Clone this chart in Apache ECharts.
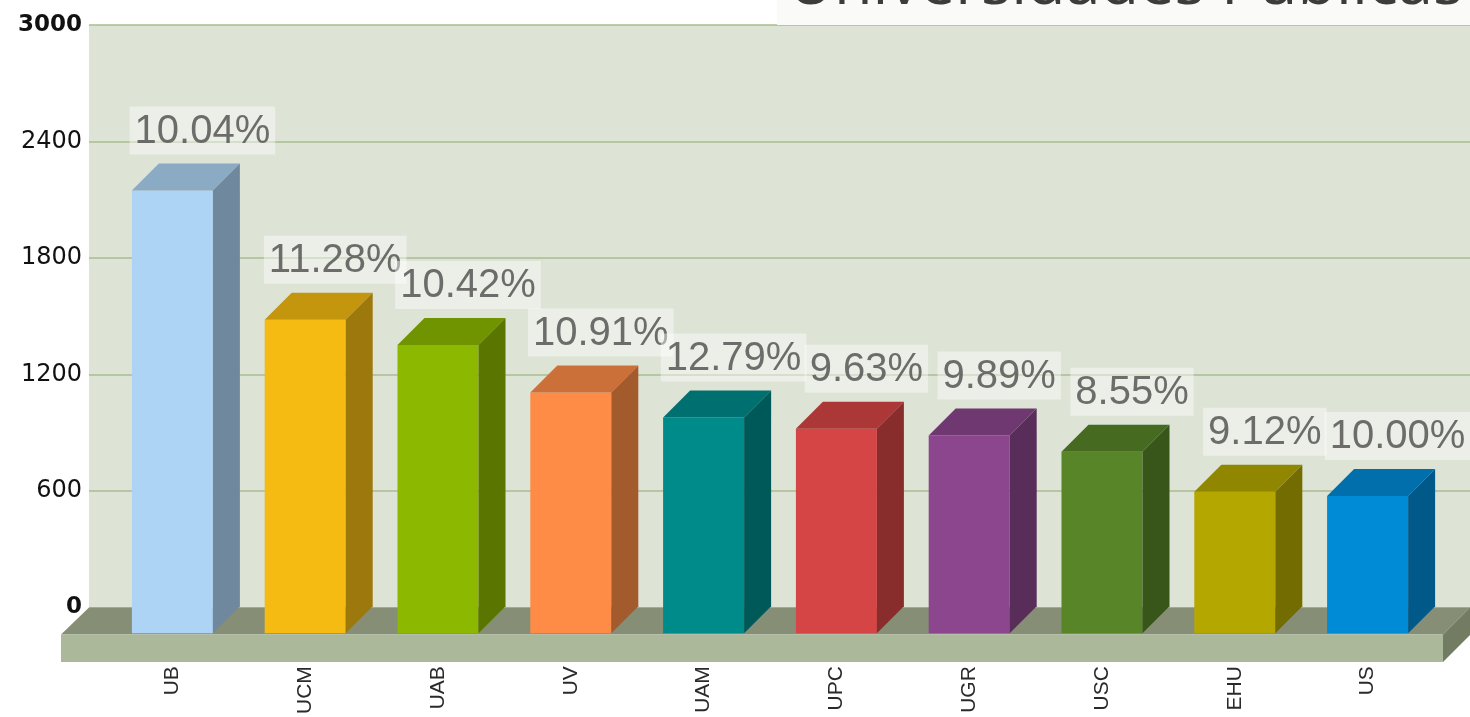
<!DOCTYPE html>
<html>
<head>
<meta charset="utf-8">
<script src="https://cdn.jsdelivr.net/npm/echarts@6/dist/echarts.min.js"></script>
<style>
  html, body { margin: 0; padding: 0; background: #ffffff; }
  #chart { width: 1470px; height: 717px; }
</style>
</head>
<body>
<div id="chart"></div>
<script>
// ---- data ----
const categories = ['UB', 'UCM', 'UAB', 'UV', 'UAM', 'UPC', 'UGR', 'USC', 'EHU', 'US'];
const values = [2285, 1618, 1488, 1242, 1113, 1055, 1020, 936, 730, 708];
const percentLabels = ['10.04%', '11.28%', '10.42%', '10.91%', '12.79%', '9.63%', '9.89%', '8.55%', '9.12%', '10.00%'];
const yMin = 0, yMax = 3000, yStep = 600;
const titleText = 'Universidades Públicas';

// ---- style ----
const palette = ['#aed4f5', '#f5bb12', '#8cb800', '#fe8c46', '#008b8b', '#d64545', '#8b468d', '#588528', '#b4a800', '#008bd6'];
const DEPTH = 27;
const GRID_LEFT = 89, GRID_TOP = 25, GRID_H = 582.5, CHART_W = 1470;

function shade(hex, f) {
  const n = parseInt(hex.slice(1), 16);
  const r = Math.round(((n >> 16) & 255) * f), g = Math.round(((n >> 8) & 255) * f), b = Math.round((n & 255) * f);
  return 'rgb(' + r + ',' + g + ',' + b + ')';
}

const chart = echarts.init(document.getElementById('chart'));

const backBottom = GRID_TOP + GRID_H;
const floorFrontY = backBottom + DEPTH;
const floorThick = 27.5;

const option = {
  animation: false,
  title: {
    text: titleText,
    right: 0,
    top: -45,
    padding: [0, 7, 7, 11],
    backgroundColor: '#fafaf8',
    textStyle: { fontFamily: 'Open Sans', fontSize: 63, fontWeight: 'normal', color: '#3c3c3c' }
  },
  grid: [
    { left: GRID_LEFT, right: 0, top: GRID_TOP, height: GRID_H, show: true, backgroundColor: '#dde3d5', borderWidth: 0 },
    { left: 106, width: 1328, top: GRID_TOP + DEPTH, height: GRID_H }
  ],
  xAxis: [
    { gridIndex: 0, type: 'category', data: categories, show: false },
    {
      gridIndex: 1, type: 'category', data: categories,
      axisLine: { show: false }, axisTick: { show: false },
      axisLabel: { rotate: 90, margin: 33, fontSize: 21, fontFamily: 'Liberation Sans', color: '#2a2a2a', interval: 0 }
    }
  ],
  yAxis: [
    {
      gridIndex: 0, type: 'value', min: yMin, max: yMax, interval: yStep,
      axisLine: { show: false }, axisTick: { show: false },
      splitLine: { lineStyle: { color: '#a9bc90', width: 1.5 } },
      axisLabel: {
        margin: 7,
        formatter: function (v) { return (v === yMin || v === yMax) ? '{b|' + v + '}' : '{n|' + v + '}'; },
        rich: {
          b: { fontFamily: 'DejaVu Sans', fontSize: 23, fontWeight: 'bold', color: '#111111' },
          n: { fontFamily: 'DejaVu Sans', fontSize: 24, fontWeight: 'normal', color: '#111111' }
        }
      }
    },
    { gridIndex: 1, type: 'value', min: yMin, max: yMax, interval: yStep, show: false, splitLine: { show: false } }
  ],
  graphic: [
    { type: 'polygon', z: 1, shape: { points: [[GRID_LEFT, backBottom], [CHART_W, backBottom], [CHART_W - DEPTH, floorFrontY], [GRID_LEFT - DEPTH - 1, floorFrontY]] }, style: { fill: '#868f76' } },
    { type: 'rect', z: 1, shape: { x: GRID_LEFT - DEPTH - 1, y: floorFrontY, width: CHART_W - GRID_LEFT + 1, height: floorThick }, style: { fill: '#abb89a' } },
    { type: 'polygon', z: 1, shape: { points: [[CHART_W - DEPTH, floorFrontY], [CHART_W, backBottom], [CHART_W, backBottom + floorThick], [CHART_W - DEPTH, floorFrontY + floorThick]] }, style: { fill: '#727c62' } }
  ],
  series: [
    {
      type: 'custom',
      xAxisIndex: 1, yAxisIndex: 1,
      z: 3,
      data: values.map(function (v, i) { return [i, v]; }),
      renderItem: function (params, api) {
        const i = api.value(0), v = api.value(1);
        const base = api.coord([i, 0]);
        const top = api.coord([i, v]);
        const w = api.size([1, 0])[0] * 0.61;
        const x0 = base[0] - w / 2, x1 = base[0] + w / 2;
        const yb = base[1], yt = top[1];
        const c = palette[i % palette.length];
        return {
          type: 'group',
          children: [
            { type: 'rect', shape: { x: x0, y: yt, width: w, height: yb - yt }, style: { fill: c } },
            { type: 'polygon', shape: { points: [[x0, yt], [x0 + DEPTH, yt - DEPTH], [x1 + DEPTH, yt - DEPTH], [x1, yt]] }, style: { fill: shade(c, 0.8) } },
            { type: 'polygon', shape: { points: [[x1, yt], [x1 + DEPTH, yt - DEPTH], [x1 + DEPTH, yb - DEPTH], [x1, yb]] }, style: { fill: shade(c, 0.64) } }
          ]
        };
      }
    },
    {
      type: 'scatter',
      xAxisIndex: 1, yAxisIndex: 1,
      z: 4,
      symbolSize: 0,
      itemStyle: { color: 'rgba(0,0,0,0)' },
      data: values.map(function (v, i) { return [i, v]; }),
      label: {
        show: true,
        position: 'top',
        distance: DEPTH + 9,
        offset: [30, 0],
        formatter: function (p) { return percentLabels[p.dataIndex]; },
        fontFamily: 'Liberation Sans',
        fontSize: 40,
        color: '#4c4c4c',
        backgroundColor: 'rgba(255,255,255,0.55)',
        padding: [5, 5, 3, 5]
      }
    }
  ]
};
chart.setOption(option);
</script>
</body>
</html>
